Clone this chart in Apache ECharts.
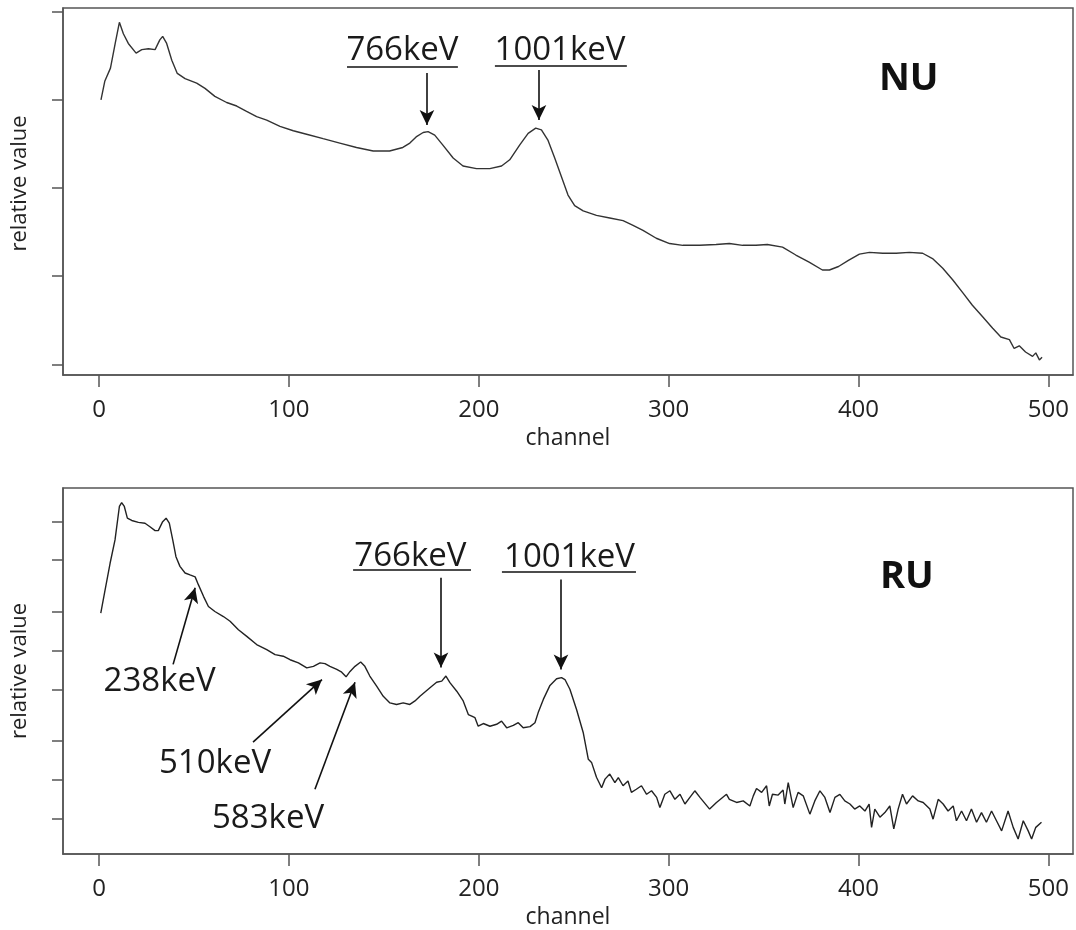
<!DOCTYPE html>
<html>
<head>
<meta charset="utf-8">
<script src="https://cdn.jsdelivr.net/npm/echarts@6/dist/echarts.min.js"></script>
<style>
html,body{margin:0;padding:0;background:#fff;}
#chart{width:1076px;height:930px;}
</style>
</head>
<body>
<div id="chart"></div>
<script>
// ---------- data ----------
const xTicks = [0, 100, 200, 300, 400, 500];
const nuTicks = [0, 1, 2, 3, 4];
const ruTicks = [0, 0.99, 1.99, 3.32, 4.32, 5.32, 6.65, 7.63];

const nuChannels = [1,3,6,8.5,10.7,12.8,15.4,19.5,22.5,26,29.5,32,33.5,35.6,38.3,41.2,45.3,51.4,55.8,61,67.2,72.5,77.7,83,88.3,95.3,102.3,109.3,118,126.8,135.6,144.4,153,160,163.7,167,170.7,173.3,176.8,181,186.5,191.7,198.8,205.8,212,216.3,221.6,226,230,233,236.5,240,243.5,247,250.5,255,262,269,276,281,286.5,293.5,300.5,307.5,316.3,325,332,339,346,352,360,367,374,381,384.7,389.5,394.7,400.5,405.8,412.8,419.8,426.8,433.8,439,444.4,449.6,455,460,465.4,470.7,475,479.5,482,484.7,488,491.7,493.4,495.3,496.7];
const nuValues = [3.00,3.21,3.36,3.64,3.88,3.75,3.64,3.53,3.57,3.58,3.57,3.68,3.72,3.64,3.45,3.30,3.24,3.19,3.13,3.04,2.97,2.93,2.87,2.81,2.77,2.70,2.65,2.61,2.56,2.51,2.46,2.42,2.42,2.46,2.51,2.58,2.63,2.64,2.60,2.49,2.34,2.25,2.22,2.22,2.25,2.32,2.49,2.62,2.68,2.66,2.54,2.34,2.13,1.92,1.80,1.74,1.69,1.66,1.63,1.58,1.52,1.43,1.37,1.35,1.35,1.36,1.37,1.35,1.35,1.36,1.33,1.24,1.16,1.07,1.07,1.11,1.18,1.25,1.27,1.26,1.26,1.27,1.26,1.20,1.09,0.96,0.81,0.67,0.54,0.41,0.31,0.28,0.18,0.21,0.14,0.09,0.13,0.05,0.08];

const ruChannels = [0.9,3.2,5.8,8.4,10.7,11.9,13.3,14.9,17.2,20.7,24.2,26.8,29.5,31.2,33.5,35.3,37,38.8,40.5,42.6,45.3,47.9,50.6,52.3,55,57.6,61,65.5,69,73.4,77.8,83,88.3,92.7,97,100.6,105,109.4,112.9,116.4,119,121.6,125.2,127.8,130.1,132.2,134.8,137.8,140,142.6,146.2,149.7,153.2,156.7,160.2,163.7,166.4,169,174.3,177.8,180.5,182.7,184.8,188.4,191.8,194.5,196.3,198,199.7,202.4,205.9,209.4,212,214.7,218.2,220.8,223.4,227,229.6,231.3,234,237.5,241,243.6,245.4,248,251.5,255,257.7,259.4,262,264.7,266.5,269,271.7,273.5,276,278.6,280.4,283,285.7,288.4,291,293.7,295.4,298,300.7,303.3,306,308.6,311.2,313.8,316.5,321.6,325.2,330.5,332,335.8,339.3,342.8,344.6,346.3,349,351.6,353,354.7,357.7,360.3,361.2,363,365.6,368.2,370.9,374.4,377,379.7,382.3,385,387.6,390.2,392.8,395.5,398,400.7,403.4,405.6,406.9,408.6,411.3,413.9,416.5,418.6,420.9,423.2,425.3,428.5,431.5,434.1,437.6,439.3,442,444.6,447.2,449.9,451.6,454.3,456.9,459.5,462.2,464.8,467.4,470.1,472.7,475.4,478.8,481.5,484.1,486.8,489.4,491.2,493.4,496.4];
const ruValues = [5.28,5.88,6.56,7.16,8.02,8.12,8.02,7.72,7.66,7.61,7.59,7.50,7.40,7.40,7.63,7.72,7.59,7.16,6.73,6.48,6.31,6.26,6.21,6.01,5.71,5.45,5.32,5.19,5.07,4.85,4.68,4.47,4.34,4.21,4.17,4.08,4.00,3.87,3.91,4.00,3.98,3.91,3.83,3.76,3.64,3.78,3.91,4.02,3.91,3.66,3.40,3.14,2.97,2.93,2.97,2.93,3.02,3.14,3.36,3.50,3.53,3.66,3.49,3.27,3.02,2.67,2.63,2.59,2.37,2.44,2.37,2.42,2.50,2.33,2.39,2.46,2.33,2.36,2.46,2.72,3.06,3.42,3.59,3.62,3.57,3.32,2.80,2.21,1.52,1.44,1.06,0.79,1.01,1.14,0.92,1.05,0.84,0.96,0.67,0.75,0.84,0.62,0.71,0.54,0.28,0.62,0.71,0.49,0.62,0.37,0.54,0.71,0.54,0.24,0.41,0.62,0.49,0.41,0.45,0.32,0.58,0.77,0.67,0.84,0.32,0.62,0.60,0.73,0.37,0.92,0.28,0.67,0.58,0.11,0.45,0.71,0.54,0.15,0.54,0.62,0.45,0.37,0.24,0.32,0.19,0.37,-0.23,0.24,0.03,0.15,0.32,-0.27,0.24,0.62,0.37,0.58,0.45,0.41,0.24,-0.02,0.49,0.37,0.19,0.32,-0.06,0.19,-0.06,0.24,-0.10,0.15,-0.10,0.19,-0.06,-0.32,0.19,-0.23,-0.53,-0.06,-0.32,-0.53,-0.23,-0.10];

// ---------- annotations (data coordinates) ----------
const nuNotes = [
  {text:'766keV', at:[159.8,3.56], ul:[[130.6,3.378],[189.0,3.378]], arrow:[[172.7,3.305],[172.7,2.715]]},
  {text:'1001keV', at:[242.8,3.56], ul:[[208.5,3.39],[278.0,3.39]], arrow:[[231.7,3.339],[231.7,2.771]]}
];
const ruNotes = [
  {text:'766keV', at:[164.0,6.74], ul:[[133.8,6.405],[195.9,6.405]], arrow:[[180.1,6.19],[180.1,3.88]]},
  {text:'1001keV', at:[247.8,6.70], ul:[[212.2,6.34],[282.8,6.34]], arrow:[[243.3,6.14],[243.3,3.83]]},
  {text:'238keV', at:[31.9,3.51], arrow:[[39.0,3.96],[50.6,5.93]]},
  {text:'510keV', at:[61.1,1.405], arrow:[[81.1,1.96],[117.4,3.57]]},
  {text:'583keV', at:[89.0,-0.005], arrow:[[113.7,0.75],[134.8,3.50]]}
];
const panelTitles = [{text:'NU', grid:0, at:[426.5,3.236]}, {text:'RU', grid:1, at:[425.5,6.21]}];

// ---------- build ----------
const FONT = '"Open Sans", "Noto Sans", sans-serif';
const AXC = '#555';
const pairs = (xs, ys) => xs.map((x, i) => [x, ys[i]]);

function markLines(notes){
  const d = [];
  notes.forEach(n => {
    d.push([{coord:n.arrow[0], symbol:'none'}, {coord:n.arrow[1], symbol:'arrow', symbolSize:[11,15]}]);
    if (n.ul) d.push([{coord:n.ul[0], symbol:'none'}, {coord:n.ul[1], symbol:'none'}]);
  });
  return {silent:true, animation:false, label:{show:false}, emphasis:{disabled:true},
    lineStyle:{color:'#111', width:1.6, type:'solid'}, data:d};
}

function xAxis(idx){
  return {type:'value', gridIndex:idx, min:-19, max:513,
    name:'channel', nameLocation:'middle', nameGap:52,
    nameTextStyle:{fontFamily:FONT, fontSize:23, color:'#222'},
    axisLine:{show:true, onZero:false, lineStyle:{color:AXC, width:1.5}},
    axisTick:{show:true, length:12, customValues:xTicks, lineStyle:{color:AXC, width:1.5}},
    axisLabel:{show:true, customValues:xTicks, margin:23, fontFamily:FONT, fontSize:24, color:'#222'},
    splitLine:{show:false}};
}
function yAxis(idx, min, max, ticks, pad){
  return {type:'value', gridIndex:idx, min:min, max:max,
    name:'relative value', nameLocation:'middle', nameGap:32, nameRotate:90,
    nameTextStyle:{fontFamily:FONT, fontSize:22, color:'#222', padding:pad},
    axisLine:{show:true, onZero:false, lineStyle:{color:AXC, width:1.5}},
    axisTick:{show:true, length:11, customValues:ticks, lineStyle:{color:AXC, width:1.5}},
    axisLabel:{show:false},
    splitLine:{show:false}};
}

const option = {
  animation:false,
  backgroundColor:'#fff',
  grid:[
    {left:63, top:8, width:1010, height:367, show:true, borderColor:AXC, borderWidth:1.5, backgroundColor:'transparent'},
    {left:63, top:488, width:1010, height:367, show:true, borderColor:AXC, borderWidth:1.5, backgroundColor:'transparent'}
  ],
  xAxis:[xAxis(0), xAxis(1)],
  yAxis:[yAxis(0, -0.121, 4.042, nuTicks, [0,0,0,16]), yAxis(1, -0.915, 8.495, ruTicks, 0)],
  series:[
    {name:'NU', type:'line', xAxisIndex:0, yAxisIndex:0, data:pairs(nuChannels, nuValues),
     showSymbol:false, smooth:false, lineStyle:{color:'#333', width:1.4}, markLine:markLines(nuNotes)},
    {name:'RU', type:'line', xAxisIndex:1, yAxisIndex:1, data:pairs(ruChannels, ruValues),
     showSymbol:false, smooth:false, lineStyle:{color:'#222', width:1.4}, markLine:markLines(ruNotes)}
  ]
};

const chart = echarts.init(document.getElementById('chart'), null, {renderer:'canvas'});
chart.setOption(option);

const toPx = (g, pt) => chart.convertToPixel({xAxisIndex:g, yAxisIndex:g}, pt);
const graphics = [];
function addNotes(notes, g){
  notes.forEach(n => {
    const p = toPx(g, n.at);
    graphics.push({type:'text', x:p[0], y:p[1], silent:true,
      style:{text:n.text, fill:'#1a1a1a', font:'33px ' + FONT, textAlign:'center', textVerticalAlign:'middle'}});
  });
}
addNotes(nuNotes, 0);
addNotes(ruNotes, 1);
panelTitles.forEach(t => {
  const p = toPx(t.grid, t.at);
  graphics.push({type:'text', x:p[0], y:p[1], silent:true,
    style:{text:t.text, fill:'#111', font:'bold 38px ' + FONT, textAlign:'center', textVerticalAlign:'middle'}});
});
chart.setOption({graphic:graphics});
</script>
</body>
</html>
